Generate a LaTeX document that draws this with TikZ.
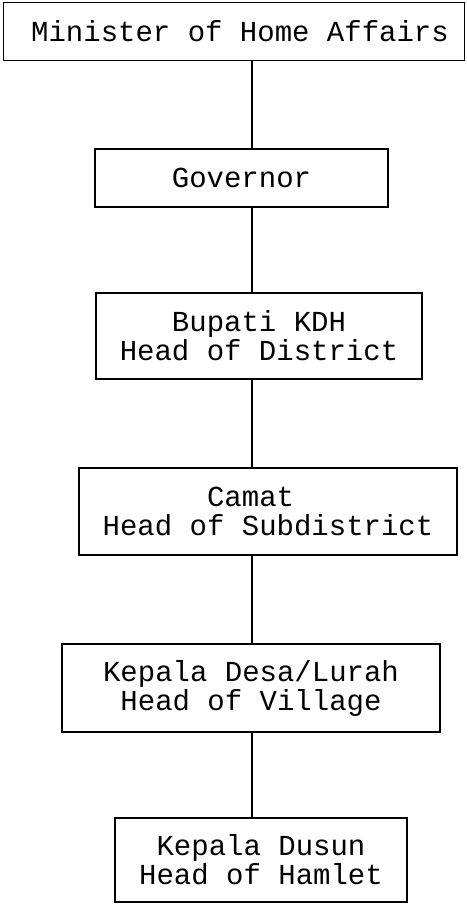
\documentclass[tikz,border=0pt]{standalone}
\usepackage{fontspec}
\setmonofont{Liberation Mono}
\begin{document}
\begin{tikzpicture}[x=1pt,y=1pt,
  box/.style={draw=black, line width=1.6pt, inner sep=0pt, align=center,
    font=\ttfamily\fontsize{29}{29}\selectfont},
  conn/.style={draw=black, line width=1.6pt}]
\useasboundingbox (0,0) rectangle (466,-905);
\coordinate (spine) at (252,0);
\node[box, minimum width=461, minimum height=58] (b1) at (234,-31.5) {\hspace*{12pt}Minister of Home Affairs};
\node[box, minimum width=293, minimum height=58] (b2) at (241.5,-178) {Governor};
\node[box, minimum width=326, minimum height=86] (b3) at (259,-336) {Bupati KDH\\Head of District};
\node[box, minimum width=378, minimum height=87] (b4) at (268,-511.5) {Camat\hphantom{MM}\\Head of Subdistrict};
\node[box, minimum width=378, minimum height=88] (b5) at (251,-688) {Kepala Desa/Lurah\\Head of Village};
\node[box, minimum width=292, minimum height=84] (b6) at (261,-860) {Kepala Dusun\\Head of Hamlet};
\draw[conn] (b1.south -| spine) -- (b2.north -| spine);
\draw[conn] (b2.south -| spine) -- (b3.north -| spine);
\draw[conn] (b3.south -| spine) -- (b4.north -| spine);
\draw[conn] (b4.south -| spine) -- (b5.north -| spine);
\draw[conn] (b5.south -| spine) -- (b6.north -| spine);
\end{tikzpicture}
\end{document}
